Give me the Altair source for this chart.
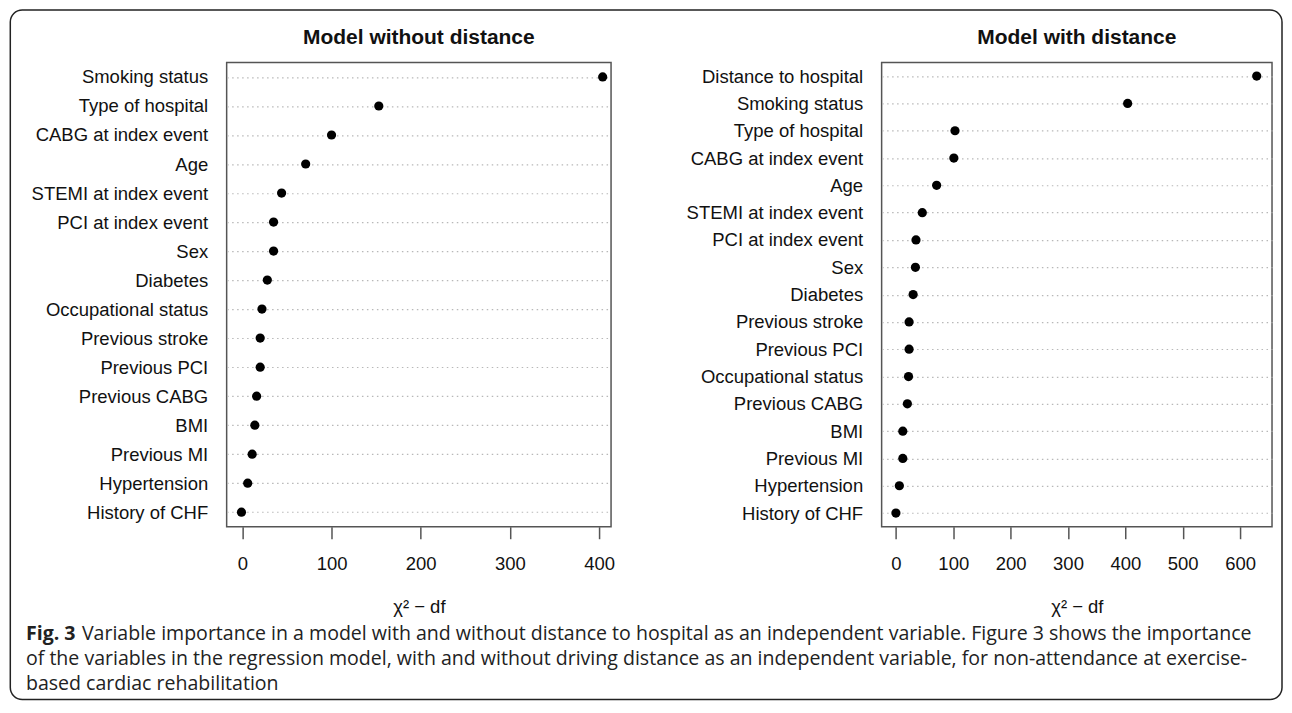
import altair as alt
import pandas as pd

# ---------------- data ----------------
left_vars = ["Smoking status", "Type of hospital", "CABG at index event", "Age",
             "STEMI at index event", "PCI at index event", "Sex", "Diabetes",
             "Occupational status", "Previous stroke", "Previous PCI",
             "Previous CABG", "BMI", "Previous MI", "Hypertension", "History of CHF"]
left_vals = [404, 153, 100, 71, 44, 35, 35, 28, 22, 20, 20, 16, 14, 11, 6, -1]

right_vars = ["Distance to hospital", "Smoking status", "Type of hospital",
              "CABG at index event", "Age", "STEMI at index event",
              "PCI at index event", "Sex", "Diabetes", "Previous stroke",
              "Previous PCI", "Occupational status", "Previous CABG", "BMI",
              "Previous MI", "Hypertension", "History of CHF"]
right_vals = [629, 404, 103, 101, 71, 46, 35, 34, 30, 23, 23, 22, 20, 12, 12, 6, 0]

left_ticks = [0, 100, 200, 300, 400]
right_ticks = [0, 100, 200, 300, 400, 500, 600]

left_title = "Model without distance"
right_title = "Model with distance"
x_title = "\u03c7\u00b2 \u2212 df"

caption_bold = "Fig. 3"
caption_line1 = ("Variable importance in a model with and without distance to hospital "
                 "as an independent variable. Figure 3 shows the importance")
caption_rest = ["of the variables in the regression model, with and without driving distance "
                "as an independent variable, for non-attendance at exercise-",
                "based cardiac rehabilitation"]

FONT = "Liberation Sans"
FS = 18.5
CAP_FONT = "Open Sans"
CAP_FS = 19.6


def panel(vars_, vals, domain, ticks):
    df = pd.DataFrame({"variable": vars_, "value": vals})
    return alt.Chart(df).mark_circle(size=85, color="black", opacity=1).encode(
        x=alt.X("value:Q",
                scale=alt.Scale(domain=domain, nice=False, zero=False),
                axis=alt.Axis(values=ticks, title=x_title, domain=False, grid=False,
                              tickSize=12, tickColor="#555555", tickWidth=1.5,
                              labelFont=FONT, labelFontSize=FS, labelColor="#111111",
                              labelPadding=15.5, titleFont=FONT, titleFontSize=FS,
                              titleFontWeight="normal", titleColor="#111111",
                              titlePadding=25)),
        y=alt.Y("variable:N", sort=vars_,
                scale=alt.Scale(type="point", padding=0.5),
                axis=alt.Axis(title=None, domain=False, ticks=False, grid=True,
                              gridDash=[1.5, 3.5], gridColor="#b8b8b8", gridWidth=1.2,
                              labelFont=FONT, labelFontSize=FS, labelColor="#111111",
                              labelPadding=19, labelLimit=400)),
    )


VIEW = alt.ViewBackground(stroke="#555555", strokeWidth=1.5)

left_dots = panel(left_vars, left_vals, [-17.6, 413.4], left_ticks)
right_dots = panel(right_vars, right_vals, [-24.9, 655.7], right_ticks)

# caption, left title and figure frame, positioned relative to the left panel's plot area
cap_df = pd.DataFrame({"title": [left_title], "bold": [caption_bold],
                       "line1": [caption_line1], "rest": ["\n".join(caption_rest)]})
cap_base = alt.Chart(cap_df)
frame = cap_base.mark_rect(fillOpacity=0, stroke="#222222", strokeWidth=1.5,
                           cornerRadius=12).encode(
    x=alt.value(-216.7), x2=alt.value(1057), y=alt.value(-52.5), y2=alt.value(638))
t_title = cap_base.mark_text(align="center", baseline="alphabetic", font=FONT,
                             fontSize=21, fontWeight="bold", color="#111111").encode(
    text="title:N", x=alt.value(192.5), y=alt.value(-18.8))
t_bold = cap_base.mark_text(align="left", baseline="alphabetic", font=CAP_FONT,
                            fontSize=CAP_FS, fontWeight="bold", color="#222222").encode(
    text="bold:N", x=alt.value(-201), y=alt.value(578))
t_line1 = cap_base.mark_text(align="left", baseline="alphabetic", font=CAP_FONT,
                             fontSize=CAP_FS, color="#222222").encode(
    text="line1:N", x=alt.value(-145), y=alt.value(578))
t_rest = cap_base.mark_text(align="left", baseline="alphabetic", font=CAP_FONT,
                            fontSize=CAP_FS, color="#222222", lineBreak="\n",
                            lineHeight=25.5).encode(
    text="rest:N", x=alt.value(-201), y=alt.value(603.5))

left = alt.layer(left_dots, frame, t_title, t_bold, t_line1, t_rest).properties(
    width=385, height=465, view=VIEW)
right = right_dots.properties(
    width=391, height=465, view=VIEW,
    title=alt.TitleParams(right_title, font=FONT, fontSize=21, fontWeight="bold",
                          color="#111111", anchor="middle", offset=14.5))

chart = alt.hconcat(left, right, spacing=271, bounds="flush").properties(
    padding={"left": 0, "top": 0, "right": 0, "bottom": 0},
    background="white",
)

chart.save("out.html", embed_options={"renderer": "svg", "actions": False})
